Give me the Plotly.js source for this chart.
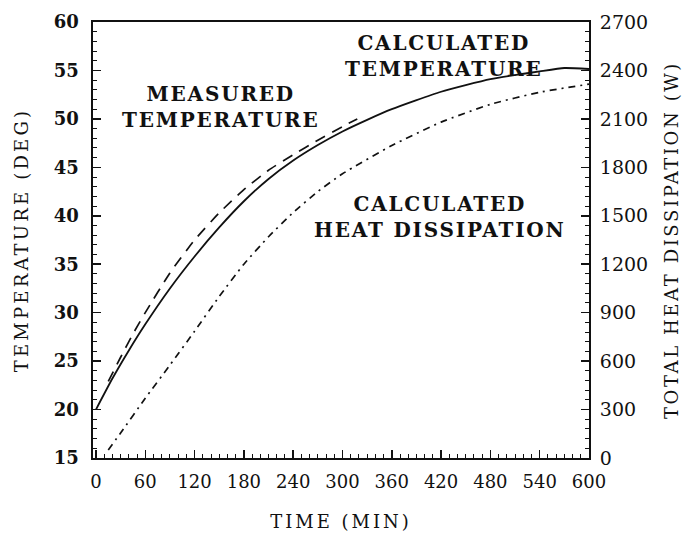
<!DOCTYPE html>
<html>
<head>
<meta charset="utf-8">
<script src="https://cdn.plot.ly/plotly-3.0.1.min.js"></script>
<style>
  html, body { margin: 0; padding: 0; background: #fff; }
  #chart { width: 693px; height: 534px; }
  .annotation-text { letter-spacing: 1.8px; }
  .xtitle { letter-spacing: 3px; }
  .ytitle { letter-spacing: 3.2px; }
  .y2title { letter-spacing: 2.6px; }
</style>
</head>
<body>
<div id="chart"></div>
<script>
// Calculated temperature (solid), deg
const calcTime = [0, 20, 40, 60, 90, 120, 150, 180, 210, 240, 270, 300, 330, 360, 420, 480, 540, 570, 600];
const calcTemp = [20, 23.2, 26.1, 28.8, 32.5, 35.8, 38.8, 41.5, 43.8, 45.7, 47.3, 48.7, 49.9, 51, 52.8, 54.1, 54.9, 55.25, 55.15];

// Measured temperature (dashed), deg
const measTime = [15, 30, 45, 60, 90, 120, 150, 180, 210, 240, 270, 300, 318];
const measTemp = [22.9, 25.4, 27.8, 30.0, 34.1, 37.5, 40.3, 42.7, 44.7, 46.3, 47.8, 49.2, 50.0];

// Calculated heat dissipation (dash-dot), W
const heatTime = [15, 30, 60, 90, 120, 150, 180, 210, 240, 270, 300, 360, 420, 480, 540, 600];
const heatW = [50, 155, 370, 575, 785, 1000, 1200, 1370, 1520, 1650, 1760, 1935, 2080, 2190, 2265, 2315];

const xTicks = [0, 60, 120, 180, 240, 300, 360, 420, 480, 540, 600];
const yTicks = [15, 20, 25, 30, 35, 40, 45, 50, 55, 60];
const y2Ticks = [0, 300, 600, 900, 1200, 1500, 1800, 2100, 2400, 2700];

const ink = '#111';
const serif = 'DejaVu Serif, Liberation Serif, serif';

const traces = [
  { x: calcTime, y: calcTemp, type: 'scatter', mode: 'lines', name: 'Calculated temperature',
    line: { color: ink, width: 1.8, shape: 'spline', smoothing: 0.5 }, yaxis: 'y' },
  { x: measTime, y: measTemp, type: 'scatter', mode: 'lines', name: 'Measured temperature',
    line: { color: ink, width: 1.7, dash: '11px,8px', shape: 'spline', smoothing: 0.5 }, yaxis: 'y' },
  { x: heatTime, y: heatW, type: 'scatter', mode: 'lines', name: 'Calculated heat dissipation',
    line: { color: ink, width: 1.7, dash: '7px,5px,2px,5px', shape: 'spline', smoothing: 0.5 }, yaxis: 'y2' }
];

const layout = {
  width: 693, height: 534,
  margin: { l: 93, r: 104, t: 22, b: 76 },
  paper_bgcolor: '#fff', plot_bgcolor: '#fff',
  showlegend: false,
  font: { family: serif, color: ink },
  xaxis: {
    range: [-3.6, 600], tickvals: xTicks, ticktext: xTicks.map(String),
    ticks: 'inside', ticklen: 8, tickwidth: 1.5, tickcolor: ink,
    minor: { dtick: 10, tick0: 0, ticks: 'inside', ticklen: 4, tickwidth: 1, tickcolor: ink, showgrid: false },
    showline: true, linecolor: ink, linewidth: 2, mirror: true,
    showgrid: false, zeroline: false,
    ticklabelstandoff: 6,
    tickfont: { family: serif, size: 18, color: ink },
    title: { text: 'TIME (MIN)', font: { family: serif, size: 18, color: ink }, standoff: 25 }
  },
  yaxis: {
    range: [15, 60], tickvals: yTicks, ticktext: yTicks.map(String),
    ticks: 'inside', ticklen: 8, tickwidth: 1.5, tickcolor: ink,
    minor: { dtick: 1, tick0: 15, ticks: 'inside', ticklen: 4, tickwidth: 1, tickcolor: ink, showgrid: false },
    showline: true, linecolor: ink, linewidth: 2.5,
    showgrid: false, zeroline: false,
    ticklabelstandoff: 8,
    tickfont: { family: serif, size: 18, color: ink, weight: 'bold' },
    title: { text: 'TEMPERATURE (DEG)', font: { family: serif, size: 18, color: ink }, standoff: 21 }
  },
  yaxis2: {
    range: [0, 2700], tickvals: y2Ticks, ticktext: y2Ticks.map(String),
    overlaying: 'y', side: 'right',
    ticks: 'inside', ticklen: 8, tickwidth: 1.5, tickcolor: ink,
    minor: { dtick: 60, tick0: 0, ticks: 'inside', ticklen: 4, tickwidth: 1, tickcolor: ink, showgrid: false },
    showline: true, linecolor: ink, linewidth: 2,
    showgrid: false, zeroline: false,
    ticklabelstandoff: 5,
    tickfont: { family: serif, size: 19, color: ink },
    title: { text: 'TOTAL HEAT DISSIPATION (W)', font: { family: serif, size: 18, color: ink }, standoff: 18 }
  },
  annotations: [
    { x: 152, y: 51.2, xref: 'x', yref: 'y', text: 'MEASURED<br>TEMPERATURE', showarrow: false,
      xanchor: 'center', yanchor: 'middle', align: 'center', font: { family: serif, size: 20, color: ink, weight: 'bold' } },
    { x: 423, y: 56.5, xref: 'x', yref: 'y', text: 'CALCULATED<br>TEMPERATURE', showarrow: false,
      xanchor: 'center', yanchor: 'middle', align: 'center', font: { family: serif, size: 20, color: ink, weight: 'bold' } },
    { x: 419, y: 39.9, xref: 'x', yref: 'y', text: 'CALCULATED<br>HEAT DISSIPATION', showarrow: false,
      xanchor: 'center', yanchor: 'middle', align: 'center', font: { family: serif, size: 20, color: ink, weight: 'bold' } }
  ]
};

Plotly.newPlot('chart', traces, layout, { staticPlot: true, displayModeBar: false });
</script>
</body>
</html>
